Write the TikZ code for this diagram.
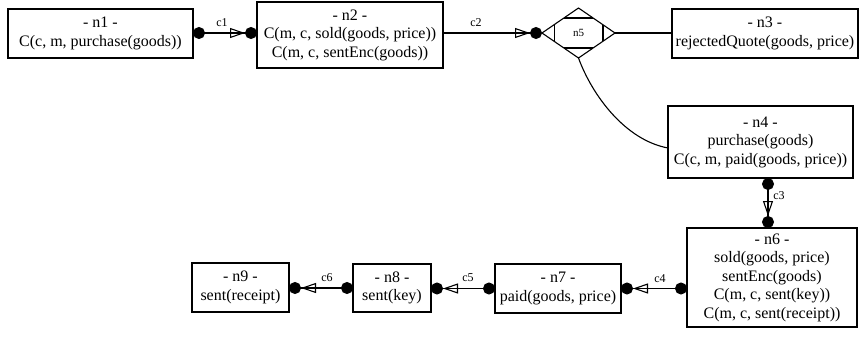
\documentclass[tikz,border=0pt]{standalone}
\usepackage{fontspec}
\setmainfont{Liberation Serif}
\usetikzlibrary{arrows.meta,shapes.geometric,calc}
\begin{document}
\begin{tikzpicture}[x=1pt,y=-1pt,
  box/.style={draw, line width=1.1pt, align=center, inner sep=0pt, outer sep=0pt, font=\rmfamily\fontsize{16}{18.5}\selectfont},
  lbl/.style={inner sep=0pt, font=\rmfamily\fontsize{12}{14}\selectfont},
  conn/.style={line width=1.1pt, arrows={Circle[length=12pt]-Triangle[open,length=15pt,width=10pt] Circle[length=12pt]}},
  connb/.style={line width=1.1pt, arrows={-Triangle[open,length=15pt,width=10pt] Circle[length=12pt]}},
  plain/.style={line width=1.1pt}]
\useasboundingbox (0,0) rectangle (860,340);
\node[box, minimum width=185pt, minimum height=49pt] (n1) at (100.5,33.5) {- n1 -\\C(c, m, purchase(goods))};
\node[box, minimum width=186pt, minimum height=66pt] (n2) at (350,35) {- n2 -\\C(m, c, sold(goods, price))\\C(m, c, sentEnc(goods))};
\node[draw, diamond, line width=1.1pt, inner sep=0pt, outer sep=0pt, minimum width=73pt, minimum height=50pt, font=\rmfamily\fontsize{11}{13}\selectfont] (n5) at (578.5,33) {n5};
\node[box, minimum width=186pt, minimum height=49pt] (n3) at (765,33.5) {- n3 -\\rejectedQuote(goods, price)};
\node[box, minimum width=185pt, minimum height=72pt] (n4) at (760.5,142) {- n4 -\\purchase(goods)\\C(c, m, paid(goods, price))};
\node[box, minimum width=170pt, minimum height=99pt] (n6) at (772,277.5) {- n6 -\\sold(goods, price)\\sentEnc(goods)\\C(m, c, sent(key))\\C(m, c, sent(receipt))};
\node[box, minimum width=126pt, minimum height=49pt] (n7) at (558,288.5) {- n7 -\\paid(goods, price)};
\node[box, minimum width=78pt, minimum height=48pt] (n8) at (392,288) {- n8 -\\sent(key)};
\node[box, minimum width=97pt, minimum height=49pt] (n9) at (240.5,287.5) {- n9 -\\sent(receipt)};
% diamond corner marks
\draw[plain] ($(n5.north)!0.4!(n5.west)$) -- ($(n5.north)!0.4!(n5.east)$);
\draw[plain] ($(n5.south)!0.4!(n5.west)$) -- ($(n5.south)!0.4!(n5.east)$);
\draw[plain] ($(n5.west)!0.33!(n5.north)$) -- ($(n5.west)!0.33!(n5.south)$);
\draw[plain] ($(n5.east)!0.33!(n5.north)$) -- ($(n5.east)!0.33!(n5.south)$);
% connectors
\coordinate (c1s) at ($(n1.east)+(0,-0.5)$);
\draw[conn] (c1s) -- (c1s -| n2.west);
\node[lbl] (l1) at (222,23) {c1};
\draw[connb] (n5.west -| n2.east) -- (n5.west);
\node[lbl] (l2) at (476,23) {c2};
\draw[plain] (n5.east) -- (n5.east -| n3.west);
\coordinate (n4in) at ($(n4.west)+(0,6)$);
\draw[plain] (n5.south) .. controls (592,95) and (625,140) .. (n4in);
\coordinate (c3s) at ($(n4.south)+(7.5,0)$);
\draw[conn] (c3s) -- (c3s |- n6.north);
\node[lbl] (l3) at (779,196) {c3};
\coordinate (c4s) at (n6.west |- n7.east);
\draw[conn] (c4s) -- (n7.east);
\node[lbl] (l4) at (660,279) {c4};
\draw[conn] (n7.west) -- (n7.west -| n8.east);
\node[lbl] (l5) at (468,278) {c5};
\draw[conn] (n8.west) -- (n8.west -| n9.east);
\node[lbl] (l6) at (327,278) {c6};
\end{tikzpicture}
\end{document}
